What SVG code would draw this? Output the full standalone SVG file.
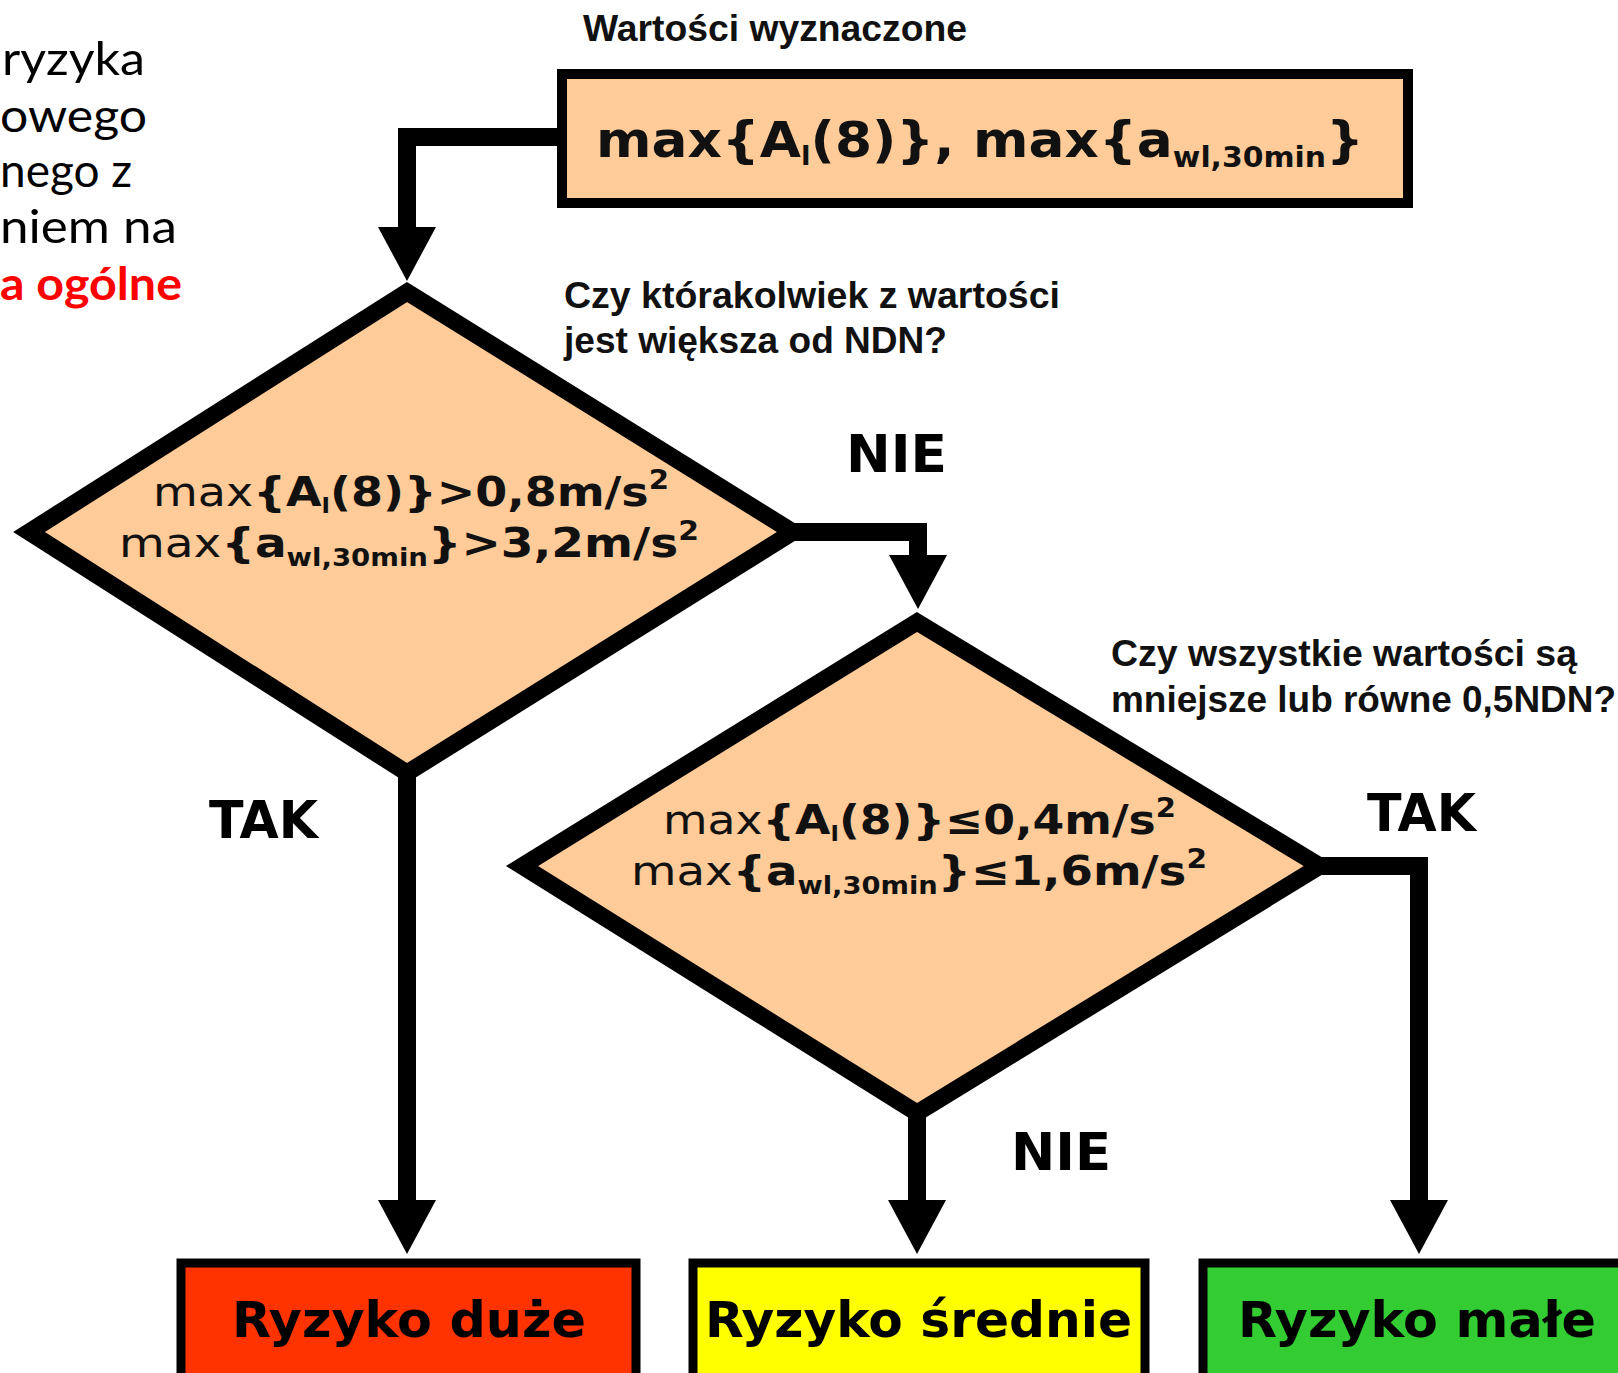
<svg xmlns="http://www.w3.org/2000/svg" width="1618" height="1373" viewBox="0 0 1618 1373">
  <style>
    .side { font-family: Lato, "Noto Sans", "DejaVu Sans", sans-serif; font-size: 46px; fill: #000; }
    .side-red { font-weight: bold; fill: #ff0000; }
    .note { font-family: "Liberation Sans Narrow", "Liberation Sans", Arial, sans-serif; font-weight: bold; font-size: 36px; fill: #111; }
    .answer { font-family: "DejaVu Sans", Verdana, sans-serif; font-weight: bold; font-size: 52px; fill: #000; }
    .formula { font-family: "DejaVu Sans", Verdana, sans-serif; font-weight: bold; fill: #111; }
    .lite { font-weight: normal; }
    .shape { stroke: #000; stroke-linejoin: miter; }
    .peach { fill: #ffcb98; }
    .result { font-family: "DejaVu Sans", Verdana, sans-serif; font-weight: bold; font-size: 50px; fill: #000; }
    .wire { fill: none; stroke: #000; stroke-width: 18; stroke-linejoin: miter; }
  </style>
  <defs>
    <marker id="arrow" markerUnits="userSpaceOnUse" markerWidth="60" markerHeight="60" refX="0" refY="0" viewBox="0 -30 56 60" orient="auto" overflow="visible">
      <path d="M0,-29 L54,0 L0,29 Z" fill="#000"/>
    </marker>
  </defs>

  <rect width="1618" height="1373" fill="#fff"/>

  <!-- side caption along the left margin -->
  <g id="caption">
    <text class="side" x="2" y="75" textLength="143" lengthAdjust="spacingAndGlyphs">ryzyka</text>
    <text class="side" x="0" y="132" textLength="147" lengthAdjust="spacingAndGlyphs">owego</text>
    <text class="side" x="0" y="187" textLength="132" lengthAdjust="spacingAndGlyphs">nego z</text>
    <text class="side" x="0" y="243" textLength="177" lengthAdjust="spacingAndGlyphs">niem na</text>
    <text class="side side-red" x="0" y="300" textLength="182" lengthAdjust="spacingAndGlyphs">a ogólne</text>
  </g>

  <!-- connectors -->
  <g id="connectors">
    <path class="wire" d="M562,137 H407 V227" marker-end="url(#arrow)"/>
    <path class="wire" d="M793,532 H918 V555" marker-end="url(#arrow)"/>
    <path class="wire" d="M407,773 V1200" marker-end="url(#arrow)"/>
    <path class="wire" d="M917,1113 V1200" marker-end="url(#arrow)"/>
    <path class="wire" d="M1320,866 H1419 V1200" marker-end="url(#arrow)"/>
  </g>

  <!-- input values -->
  <g id="values">
    <text class="note" x="583" y="41" textLength="384" lengthAdjust="spacingAndGlyphs">Wartości wyznaczone</text>
    <rect class="shape peach" x="562" y="74" width="846" height="129" stroke-width="10"/>
    <text class="formula" x="596" y="157" font-size="50" textLength="768" lengthAdjust="spacingAndGlyphs">max{A<tspan font-size="26" dy="8">l</tspan><tspan dy="-8">(8)}, max{a</tspan><tspan font-size="28" dy="10">wl,30min</tspan><tspan dy="-10">}</tspan></text>
  </g>

  <!-- first decision: above the limit value -->
  <g id="decision-limit">
    <polygon class="shape peach" points="407,292 793,532 407,773 29,532" stroke-width="17"/>
    <text class="formula" x="153" y="506" font-size="41" textLength="516" lengthAdjust="spacingAndGlyphs"><tspan class="lite">max</tspan>{A<tspan font-size="22" dy="7">l</tspan><tspan dy="-7">(8)}&gt;0,8m/s</tspan><tspan font-size="26" dy="-17">2</tspan></text>
    <text class="formula" x="119" y="557" font-size="41" textLength="580" lengthAdjust="spacingAndGlyphs"><tspan class="lite">max</tspan>{a<tspan font-size="24" dy="9">wl,30min</tspan><tspan dy="-9">}&gt;3,2m/s</tspan><tspan font-size="26" dy="-17">2</tspan></text>
    <text class="note" x="564" y="308" textLength="496" lengthAdjust="spacingAndGlyphs">Czy którakolwiek z wartości</text>
    <text class="note" x="564" y="353" textLength="383" lengthAdjust="spacingAndGlyphs">jest większa od NDN?</text>
  </g>

  <!-- second decision: half the limit value -->
  <g id="decision-half">
    <polygon class="shape peach" points="917,622 1320,866 917,1113 522,866" stroke-width="17"/>
    <text class="formula" x="663" y="834" font-size="41" textLength="513" lengthAdjust="spacingAndGlyphs"><tspan class="lite">max</tspan>{A<tspan font-size="22" dy="7">l</tspan><tspan dy="-7">(8)}≤0,4m/s</tspan><tspan font-size="26" dy="-17">2</tspan></text>
    <text class="formula" x="631" y="885" font-size="41" textLength="576" lengthAdjust="spacingAndGlyphs"><tspan class="lite">max</tspan>{a<tspan font-size="24" dy="9">wl,30min</tspan><tspan dy="-9">}≤1,6m/s</tspan><tspan font-size="26" dy="-17">2</tspan></text>
    <text class="note" x="1111" y="666" textLength="466" lengthAdjust="spacingAndGlyphs">Czy wszystkie wartości są</text>
    <text class="note" x="1111" y="712" textLength="505" lengthAdjust="spacingAndGlyphs">mniejsze lub równe 0,5NDN?</text>
  </g>

  <!-- branch labels -->
  <g id="labels">
    <text class="answer" x="846" y="472" textLength="101" lengthAdjust="spacingAndGlyphs">NIE</text>
    <text class="answer" x="209" y="838" textLength="109" lengthAdjust="spacingAndGlyphs">TAK</text>
    <text class="answer" x="1367" y="831" textLength="109" lengthAdjust="spacingAndGlyphs">TAK</text>
    <text class="answer" x="1011" y="1170" textLength="100" lengthAdjust="spacingAndGlyphs">NIE</text>
  </g>

  <!-- outcomes -->
  <g id="risk-high">
    <rect class="shape" x="181" y="1263" width="455" height="200" fill="#ff3300" stroke-width="9"/>
    <text class="result" x="232" y="1337" textLength="354" lengthAdjust="spacingAndGlyphs">Ryzyko duże</text>
  </g>
  <g id="risk-medium">
    <rect class="shape" x="693" y="1263" width="452" height="200" fill="#ffff00" stroke-width="9"/>
    <text class="result" x="705" y="1337" textLength="427" lengthAdjust="spacingAndGlyphs">Ryzyko średnie</text>
  </g>
  <g id="risk-low">
    <rect class="shape" x="1203" y="1263" width="500" height="200" fill="#33cc33" stroke-width="9"/>
    <text class="result" x="1238" y="1337" textLength="358" lengthAdjust="spacingAndGlyphs">Ryzyko małe</text>
  </g>
</svg>
